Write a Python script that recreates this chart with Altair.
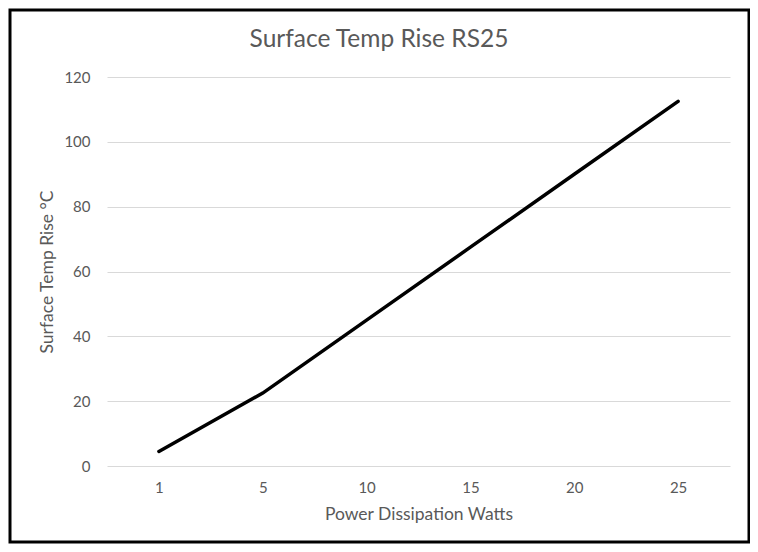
import altair as alt
import pandas as pd

watts = ["1", "5", "10", "15", "20", "25"]
temp_rise = [4.5, 22.5, 45, 67.5, 90, 112.5]
title_text = ["Surface Temp Rise RS25"]

df = pd.DataFrame({"w": watts, "t": temp_rise})
FONT = "Lato"
GREY = "#595959"

base = alt.Chart(df)

line = base.mark_line(color="black", strokeWidth=3.5, strokeCap="round").encode(
    x=alt.X("w:O", sort=watts, scale=alt.Scale(type="point", padding=0.5),
            axis=alt.Axis(title="Power Dissipation Watts", labelAngle=0, ticks=False,
                          domain=False, labelPadding=14, titlePadding=10,
                          labelFontSize=15, titleFontSize=17.5, grid=False)),
    y=alt.Y("t:Q", scale=alt.Scale(domain=[0, 120]),
            axis=alt.Axis(title="Surface Temp Rise °C", values=[0, 20, 40, 60, 80, 100, 120],
                          ticks=False, domain=False, labelPadding=17, titlePadding=7,
                          labelFontSize=15, titleFontSize=17.5, gridColor="#d9d9d9")),
)

title = alt.Chart(pd.DataFrame({"txt": title_text})).mark_text(
    font=FONT, fontSize=24.5, color=GREY, align="center", baseline="alphabetic"
).encode(text="txt:N", x=alt.value(272), y=alt.value(-30))

border = alt.Chart(pd.DataFrame({"txt": title_text})).mark_rect(
    fill=None, stroke="black", strokeWidth=3, clip=False
).encode(x=alt.value(-97), x2=alt.value(642), y=alt.value(-67), y2=alt.value(465))

chart = alt.layer(line, title, border).properties(
    width=623, height=389,
    background="white",
    autosize=alt.AutoSizeParams(type="none"),
    padding={"left": 99, "top": 69, "right": 20, "bottom": 78},
).configure_view(stroke=None).configure_axis(
    labelFont=FONT, titleFont=FONT, labelColor=GREY, titleColor=GREY,
    titleFontWeight="normal", gridColor="#d9d9d9"
)

chart.save("out.html", embed_options={"renderer": "svg", "actions": False})
